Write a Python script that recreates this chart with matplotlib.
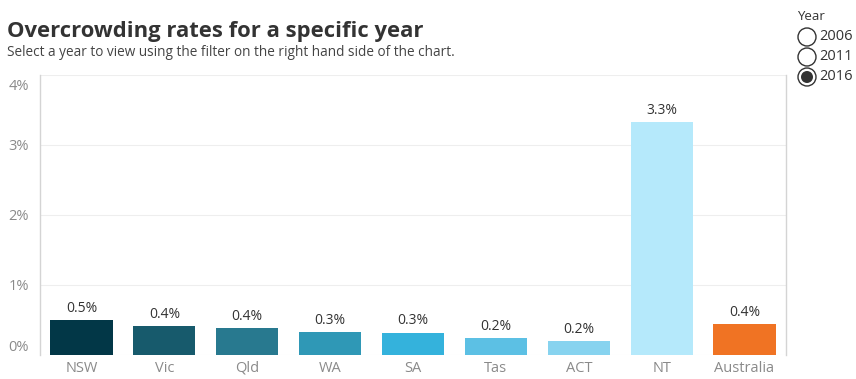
import matplotlib
matplotlib.use("Agg")
import matplotlib.pyplot as plt
import matplotlib.transforms as mtransforms
from matplotlib.patches import Circle

# Overcrowding rate (%) by state/territory, 2016
regions = ["NSW", "Vic", "Qld", "WA", "SA", "Tas", "ACT", "NT", "Australia"]
rates = [0.50, 0.41, 0.38, 0.33, 0.32, 0.24, 0.20, 3.33, 0.44]
colors = ["#023747", "#175a6c", "#28798f", "#2f98b6", "#34b2dc",
          "#5cc0e4", "#87d3ef", "#b5e9fb", "#f07323"]
y_ticks = [0, 1, 2, 3, 4]
years = ["2006", "2011", "2016"]
selected_year = "2016"

plt.rcParams["font.family"] = ["Open Sans", "DejaVu Sans"]

W, H = 856, 379
fig = plt.figure(figsize=(W / 100, H / 100), dpi=100)
ax = fig.add_axes([40 / W, 1 - 355 / H, (786 - 40) / W, (355 - 75) / H])

x = range(len(regions))
bars = ax.bar(x, rates, width=0.75, color=colors, zorder=3)
for xi, v in zip(x, rates):
    ax.annotate(f"{v:.1f}%", (xi, v), xytext=(0, 3), textcoords="offset points",
                ha="center", va="bottom", fontsize=10, color="#333333")

ax.set_xlim(-0.5, len(regions) - 0.5)
ax.set_ylim(0, 4)
ax.set_yticks(y_ticks)
ax.set_yticklabels([f"{t}%" for t in y_ticks])
ax.set_xticks(list(x))
ax.set_xticklabels(regions)
ax.tick_params(axis="both", length=0, colors="#8a8a8a", labelsize=10.5)
ax.tick_params(axis="y", pad=8)
ax.tick_params(axis="x", pad=4)

# Keep the end labels inside the axis range
for tick, t in zip(ax.yaxis.get_major_ticks(), y_ticks):
    lbl = tick.label1
    if t == 0:
        lbl.set_verticalalignment("bottom")
    elif t == 4:
        lbl.set_verticalalignment("top")
        lbl.set_transform(lbl.get_transform() +
                          mtransforms.ScaledTranslation(0, -4 / 100, fig.dpi_scale_trans))

ax.grid(axis="y", color="#eeeeee", linewidth=0.8, zorder=0)
for side in ["top", "bottom"]:
    ax.spines[side].set_visible(False)
for side in ["left", "right"]:
    ax.spines[side].set_color("#d4d4d4")
    ax.spines[side].set_linewidth(1.0)

# Title and subtitle
fig.text(7 / W, 1 - 31 / H, "Overcrowding rates for a specific year",
         fontsize=15.8, fontweight="bold", color="#333333", va="center")
fig.text(7 / W, 1 - 53 / H,
         "Select a year to view using the filter on the right hand side of the chart.",
         fontsize=9.8, color="#444444", va="center")

# Year filter (radio buttons)
fig.text(797 / W, 1 - 16 / H, "Year", fontsize=9.5, color="#333333", va="center")
for i, yr in enumerate(years):
    cy = 37 + i * 20
    ring = Circle((807, H - cy), 9, transform=None, facecolor="white",
                  edgecolor="#333333", linewidth=1.0)
    fig.patches.append(ring)
    if yr == selected_year:
        dot = Circle((807, H - cy), 6, transform=None, facecolor="#333333",
                     edgecolor="none")
        fig.patches.append(dot)
    fig.text(819 / W, 1 - cy / H, yr, fontsize=10.5, color="#333333", va="center")

fig.savefig("out.png", dpi=100)
